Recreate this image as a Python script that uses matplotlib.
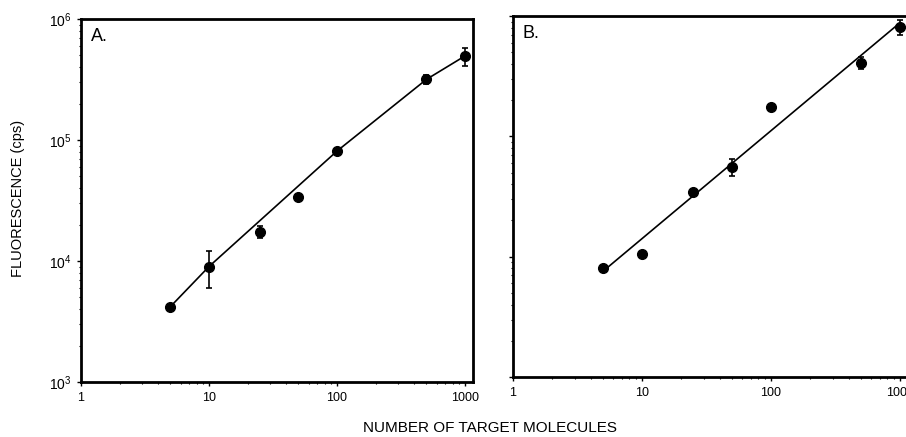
import matplotlib
matplotlib.use("Agg")
import matplotlib.pyplot as plt
import matplotlib.ticker as ticker
import numpy as np

plt.rcParams["font.family"] = ["Liberation Sans", "DejaVu Sans"]
plt.rcParams["mathtext.fontset"] = "custom"
plt.rcParams["mathtext.rm"] = "Liberation Sans"
plt.rcParams["mathtext.it"] = "Liberation Sans"

# panel A
molecules_a = [5, 10, 25, 50, 100, 500, 1000]
fluor_a = [4200, 9000, 17500, 33500, 81000, 317000, 495000]
err_a = [0, 3000, 2000, 0, 0, 25000, 85000]
# points the drawn curve in A goes through
curve_idx_a = [0, 1, 4, 5, 6]

# panel B
molecules_b = [5, 10, 25, 50, 100, 500, 1000]
fluor_b = [8100, 10600, 34500, 55500, 174000, 410000, 810000]
err_b = [0, 0, 0, 9000, 0, 50000, 120000]

xticks = [1, 10, 100, 1000]
yticks = [1e3, 1e4, 1e5, 1e6]

fig = plt.figure(figsize=(9.06, 4.37), dpi=100)
ax1 = fig.add_axes([81/906, 55/437, 392/906, 363/437])
ax2 = fig.add_axes([513/906, 60/437, 400/906, 361/437])


def style(ax, xmax, show_y):
    ax.set_xscale("log")
    ax.set_yscale("log")
    ax.set_xlim(1, xmax)
    ax.set_ylim(1e3, 1e6)
    for s in ax.spines.values():
        s.set_linewidth(2)
    ax.set_xticks(xticks)
    ax.xaxis.set_major_formatter(ticker.FuncFormatter(lambda v, p: "%d" % v))
    ax.set_yticks(yticks)
    if show_y:
        ax.yaxis.set_major_formatter(ticker.LogFormatterMathtext())
    else:
        ax.set_yticklabels([])
    ax.tick_params(which="major", direction="out", length=3, width=1, labelsize=9, pad=4)
    ax.tick_params(which="minor", direction="out", length=1.5, width=0.8)
    ax.tick_params(axis="y", labelsize=10)


style(ax1, 10 ** (392/128), True)
style(ax2, 10 ** (400/129), False)

# curve in A
ax1.plot([molecules_a[i] for i in curve_idx_a], [fluor_a[i] for i in curve_idx_a],
         color="black", lw=1.2)

# straight fit in B (log-log)
lxb = np.log10(molecules_b)
cb = np.polyfit(lxb, np.log10(fluor_b), 1)
xsb = np.array([lxb[0], lxb[-1]])
ax2.plot(10 ** xsb, 10 ** np.polyval(cb, xsb), color="black", lw=1.2)

ax1.errorbar(molecules_a, fluor_a, yerr=err_a, fmt="o", color="black",
             ms=7, capsize=2.5, elinewidth=1.2, capthick=1.2)
ax2.errorbar(molecules_b, fluor_b, yerr=err_b, fmt="o", color="black",
             ms=7, capsize=2.5, elinewidth=1.2, capthick=1.2)

ax1.text(0.025, 0.975, "A.", transform=ax1.transAxes, fontsize=13, va="top", ha="left")
ax2.text(0.025, 0.975, "B.", transform=ax2.transAxes, fontsize=13, va="top", ha="left")

fig.text(18/906, 1 - 198/437, "FLUORESCENCE (cps)", rotation=90, fontsize=10.5,
         ha="center", va="center")
fig.text(490/906, 1 - 428/437, "NUMBER OF TARGET MOLECULES", fontsize=11,
         ha="center", va="center")

fig.savefig("out.png", dpi=100)
